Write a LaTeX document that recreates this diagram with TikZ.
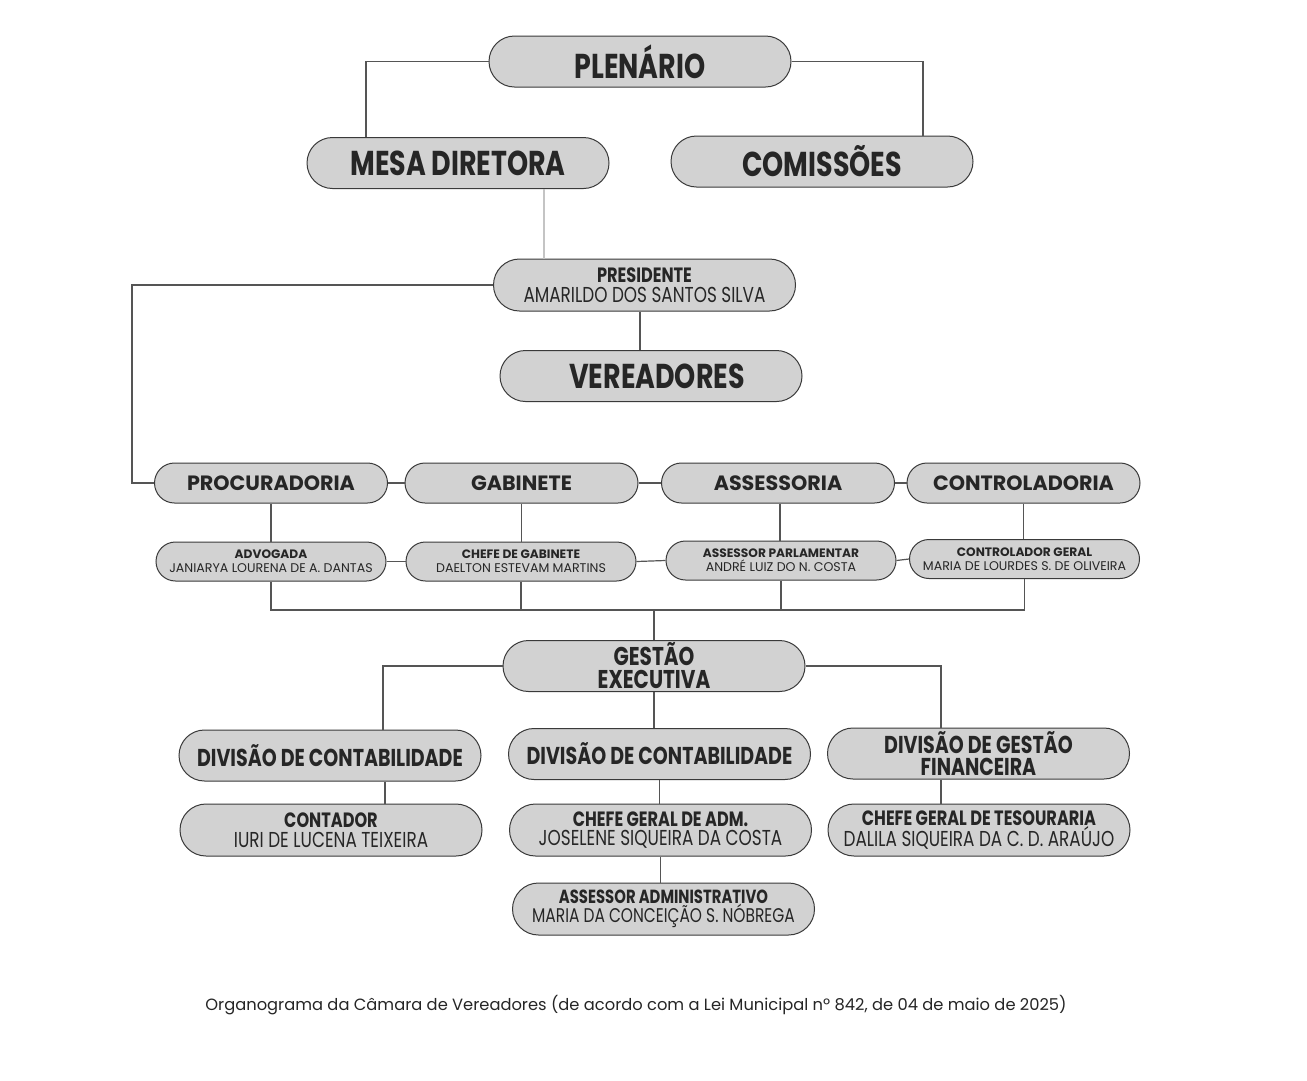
\documentclass[tikz,border=0pt]{standalone}
\usepackage{fontspec}
\setmainfont{Poppins}
\newfontfamily\cond[FakeStretch=0.78]{Poppins}
\usetikzlibrary{shapes.misc}
\definecolor{boxc}{HTML}{D2D2D2}
\definecolor{bordc}{HTML}{3A3A3A}
\definecolor{txtc}{HTML}{262626}
\definecolor{linec}{HTML}{555555}
\definecolor{lightc}{HTML}{C4C4C4}
\newcommand{\fs}[2]{\fontsize{#1}{#2}\selectfont}
\newcommand{\mt}[4][20.7]{{\cond\bfseries\fs{#1}{19}#3}\\{\cond\fs{#2}{19}#4}}
\newcommand{\st}[2]{{\bfseries\fs{12.2}{14}#1}\\{\fs{12.6}{14}#2}}
\tikzset{
  box/.style={rounded rectangle, draw=bordc, fill=boxc, line width=1pt, inner sep=0pt, text=txtc, align=center},
  bigbox/.style={box, minimum width=302pt, minimum height=51pt, font=\cond\bfseries\fs{34.5}{36}},
  midbox/.style={box, minimum width=302pt, minimum height=52pt, font=\fs{20}{19.5}},
  rowbox/.style={box, minimum width=233pt, minimum height=40pt, font=\bfseries\fs{20.7}{22}},
  smallbox/.style={box, minimum width=230pt, minimum height=39pt, font=\fs{12.4}{14}},
  conn/.style={draw=linec, line width=1.2pt},
}
\begin{document}
\begin{tikzpicture}[x=1pt,y=-1pt]
\useasboundingbox (0,0) rectangle (1307,1080);
\fill[white] (0,0) rectangle (1307,1080);
% top
\node[bigbox] (pl) at (640,61.5) {PLENÁRIO};
\node[bigbox] (mesa) at (458,163) {MESA DIRETORA};
\node[bigbox] (com) at (822,161.5) {COMISSÕES};
\node[midbox] (pres) at (644.5,285) {\mt{21.6}{PRESIDENTE}{AMARILDO DOS SANTOS SILVA}};
\node[bigbox] (ver) at (651,376) {\hspace*{12pt}VEREADORES};
% row
\node[rowbox] (proc) at (271,483) {PROCURADORIA};
\node[rowbox] (gab) at (521.5,483) {GABINETE};
\node[rowbox] (ass) at (778,483) {ASSESSORIA};
\node[rowbox] (ctrl) at (1023.5,483) {CONTROLADORIA};
% small
\node[smallbox] (adv) at (271,561.5) {\st{ADVOGADA}{JANIARYA LOURENA DE A. DANTAS}};
\node[smallbox] (chg) at (521,561.5) {\st{CHEFE DE GABINETE}{DAELTON ESTEVAM MARTINS}};
\node[smallbox] (asp) at (781,560.5) {\st{ASSESSOR PARLAMENTAR}{ANDRÉ LUIZ DO N. COSTA}};
\node[smallbox] (ctg) at (1024.5,559) {\st{CONTROLADOR GERAL}{MARIA DE LOURDES S. DE OLIVEIRA}};
% gestao
\node[bigbox, font=\cond\bfseries\fs{25.7}{23}] (ge) at (654,666) {GESTÃO\\EXECUTIVA};
\node[bigbox, font=\cond\bfseries\fs{24.4}{20}] (d1) at (330,755.5) {DIVISÃO DE CONTABILIDADE};
\node[bigbox, font=\cond\bfseries\fs{24.4}{20}] (d2) at (659.5,754) {DIVISÃO DE CONTABILIDADE};
\node[bigbox, font=\cond\bfseries\fs{24.4}{22}] (d3) at (978.5,753.5) {DIVISÃO DE GESTÃO\\FINANCEIRA};
\node[midbox] (cont) at (331,830) {\mt{21.6}{CONTADOR}{IURI DE LUCENA TEIXEIRA}};
\node[midbox] (cga) at (660.5,830) {\mt{21.6}{CHEFE GERAL DE ADM.}{JOSELENE SIQUEIRA DA COSTA}};
\node[midbox] (cgt) at (979,830) {\mt{21.6}{CHEFE GERAL DE TESOURARIA}{DALILA SIQUEIRA DA C. D. ARAÚJO}};
\node[midbox] (aadm) at (663.5,909) {\mt[19]{19.8}{ASSESSOR ADMINISTRATIVO}{MARIA DA CONCEIÇÃO S. NÓBREGA}};
% caption
\node[text=txtc, font=\fs{16.3}{18}, inner sep=0pt] (cap) at (636,1005) {Organograma da Câmara de Vereadores (de acordo com a Lei Municipal nº 842, de 04 de maio de 2025)};
% connectors
\draw[conn] (pl.west) -| ([xshift=-92pt]mesa.north);
\draw[conn] (pl.east) -| ([xshift=101pt]com.north);
\draw[draw=lightc, line width=1.2pt] ([xshift=86pt]mesa.south) -- ([xshift=86pt]mesa.south |- pres.north);
\draw[conn] ([xshift=-4.5pt]pres.south) -- ([xshift=-4.5pt]pres.south |- ver.north);
\draw[conn] (pres.west) -| ([xshift=-22pt]proc.west) -- (proc.west);
\draw[conn] (proc.east) -- (gab.west);
\draw[conn] (gab.east) -- (ass.west);
\draw[conn] (ass.east) -- (ctrl.west);
\draw[conn] (proc.south) -- (proc.south |- adv.north);
\draw[conn] (gab.south) -- (gab.south |- chg.north);
\draw[conn] ([xshift=2pt]ass.south) -- ([xshift=2pt]ass.south |- asp.north);
\draw[conn] (ctrl.south) -- (ctrl.south |- ctg.north);
\draw[conn] (adv.east) -- (chg.west);
\draw[conn] (chg.east) -- (asp.west);
\draw[conn] (asp.east) -- (ctg.west);
\coordinate (busR) at (1024.5,610);
\draw[conn] (adv.south) |- (busR);
\draw[conn] (chg.south) -- (chg.south |- busR);
\draw[conn] (asp.south) -- (asp.south |- busR);
\draw[conn] (ctg.south) -- (busR);
\draw[conn] (ge.north) -- (ge.north |- busR);
\draw[conn] (ge.west) -| ([xshift=53pt]d1.north);
\draw[conn] (ge.east) -| ([xshift=-37.5pt]d3.north);
\draw[conn] (ge.south) -- (ge.south |- d2.north);
\draw[conn] ([xshift=55pt]d1.south) -- ([xshift=55pt]d1.south |- cont.north);
\draw[conn] (d2.south) -- (d2.south |- cga.north);
\draw[conn] ([xshift=-37.5pt]d3.south) -- ([xshift=-37.5pt]d3.south |- cgt.north);
\draw[conn] (cga.south) -- (cga.south |- aadm.north);
\end{tikzpicture}
\end{document}
